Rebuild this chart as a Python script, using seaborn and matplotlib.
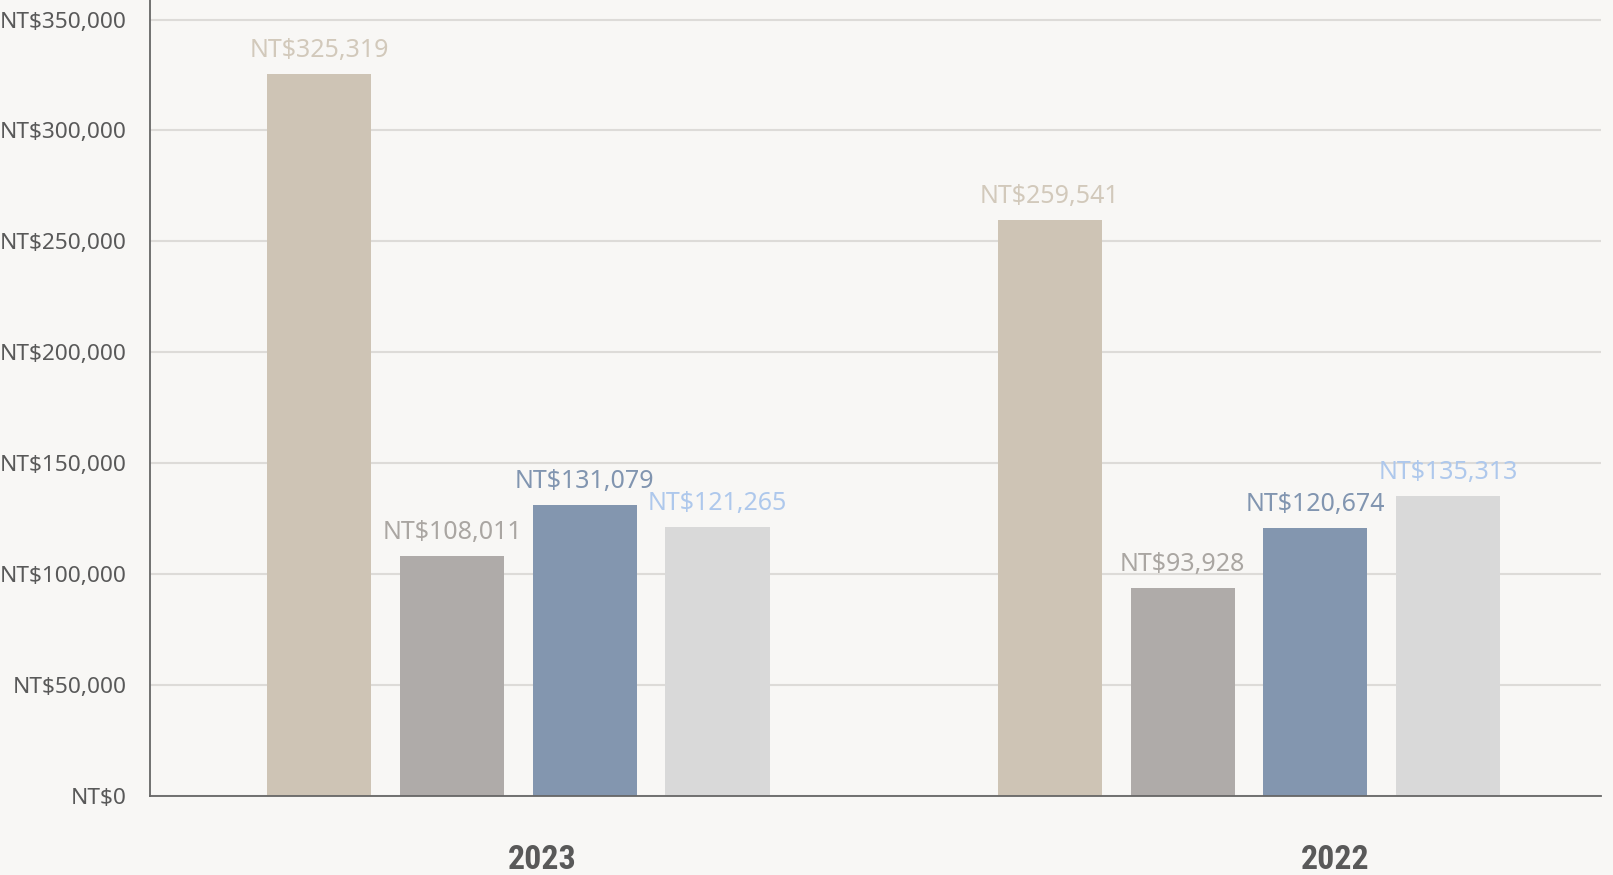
import matplotlib
matplotlib.use("Agg")
import matplotlib.pyplot as plt
import matplotlib.transforms as mtransforms
from matplotlib.ticker import FuncFormatter, MultipleLocator
import seaborn as sns
import pandas as pd

# ---- data ----
categories = ["2023", "2022"]
series = ["S1", "S2", "S3", "S4"]
values_2023 = [325319, 108011, 131079, 121265]
values_2022 = [259541, 93928, 120674, 135313]

bar_colors = ["#cec4b5", "#afaba9", "#8396af", "#d9d9d9"]
label_colors = ["#d2c9bb", "#aaa6a2", "#8195b0", "#aec8ec"]

rows = []
for cat, vals in zip(categories, [values_2023, values_2022]):
    for s, v in zip(series, vals):
        rows.append({"year": cat, "series": s, "value": v})
df = pd.DataFrame(rows)

sns.set_theme(style="white")
plt.rcParams["font.family"] = ["Noto Sans", "DejaVu Sans"]

BG = "#f8f7f5"
fig = plt.figure(figsize=(16.13, 8.75), dpi=100, facecolor=BG)
ax = fig.add_axes([150 / 1613, 79 / 875, 1451 / 1613, 796 / 875])
ax.set_facecolor(BG)

sns.barplot(data=df, x="year", y="value", hue="series", order=categories,
            hue_order=series, palette=bar_colors, saturation=1,
            width=0.7266, gap=0.216, legend=False, ax=ax, errorbar=None,
            linewidth=0, edgecolor="none")

ax.set_xlim(-0.5044, 1.4819)
ax.set_ylim(0, 358800)
ax.yaxis.set_major_locator(MultipleLocator(50000))
ax.yaxis.set_major_formatter(FuncFormatter(lambda v, p: f"NT${v:,.0f}"))
ax.grid(axis="y", color="#dddbd8", linewidth=1.5)
ax.set_axisbelow(True)

for sp in ["top", "right"]:
    ax.spines[sp].set_visible(False)
for sp in ["left", "bottom"]:
    ax.spines[sp].set_color("#666666")
    ax.spines[sp].set_linewidth(1.3)

ax.tick_params(axis="y", length=0, pad=17, labelsize=16.3, labelcolor="#595959")
ax.tick_params(axis="x", length=0, pad=34.5, labelcolor="#595959")
ax.set_xticks(range(len(categories)), categories,
              fontfamily=["Liberation Sans Narrow", "Roboto Condensed", "Open Sans", "DejaVu Sans"],
              fontweight="bold", fontsize=24.5, color="#595959")
ax.set_xlabel("")
ax.set_ylabel("")

for cont, col in zip(ax.containers, label_colors):
    ax.bar_label(cont, labels=[f"NT${b.get_height():,.0f}" for b in cont],
                 padding=8, color=col, fontsize=18)

fig.canvas.draw()
offsets_pt = [17, 62]
for lab, dx in zip(ax.get_xticklabels(), offsets_pt):
    lab.set_transform(lab.get_transform() +
                      mtransforms.ScaledTranslation(dx / 72, 0, fig.dpi_scale_trans))

fig.savefig("out.png", dpi=100, facecolor=BG)
